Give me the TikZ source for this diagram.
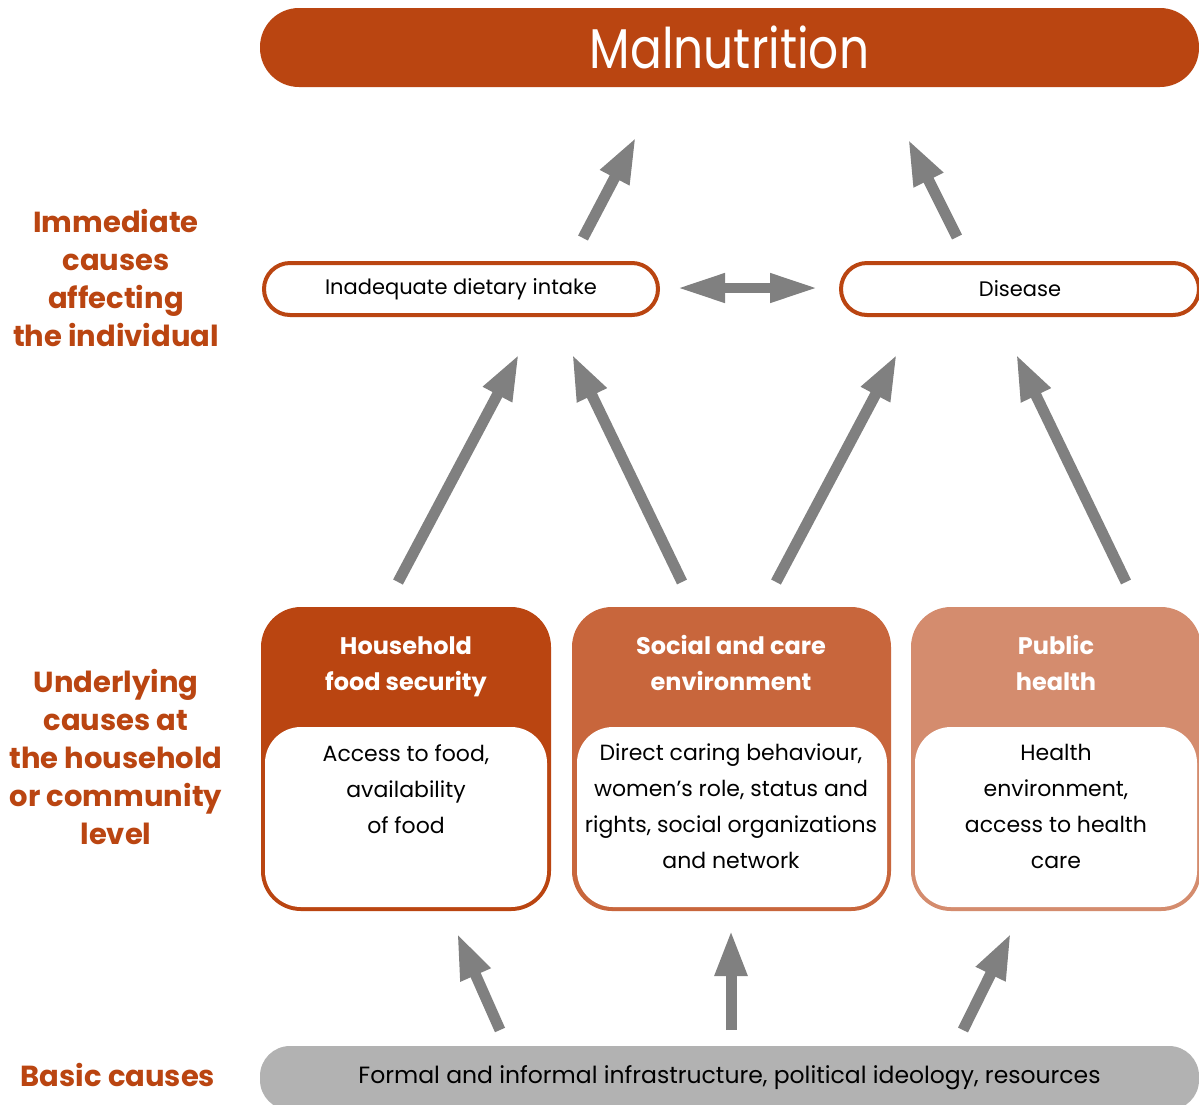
\documentclass[tikz,border=0pt]{standalone}
\usepackage{fontspec}
\setmainfont{Poppins}
\newfontfamily\titlefont[FakeStretch=0.84]{Poppins}
\usetikzlibrary{arrows.meta}
\definecolor{rust}{RGB}{186,69,17}
\definecolor{rustmid}{RGB}{200,102,60}
\definecolor{rustlight}{RGB}{212,140,110}
\definecolor{arrgray}{RGB}{128,128,128}
\definecolor{basegray}{RGB}{178,178,178}
\begin{document}
\begin{tikzpicture}[x=1pt,y=-1pt,
  uparrow/.style={draw=arrgray, line width=11pt, -{Triangle[length=46pt,width=30pt]}},
  dblarrow/.style={draw=arrgray, line width=10pt, {Triangle[length=48pt,width=27pt]}-{Triangle[length=48pt,width=27pt]}},
  sidelabel/.style={text=rust, font=\bfseries\fontsize{29}{38}\selectfont, align=center, inner sep=0pt},
  immbox/.style={draw=rust, line width=4pt, fill=white, rounded corners=26pt, inner sep=0pt, minimum height=52pt, font=\fontsize{21}{30}\selectfont},
  headtext/.style={text=white, font=\bfseries\fontsize{24}{36}\selectfont, align=center, inner sep=0pt},
  bodytext/.style={text=black, font=\fontsize{22}{36}\selectfont, align=center, inner sep=0pt, anchor=north},
]
\clip (0,0) rectangle (1199,1104);
\fill[white] (0,0) rectangle (1199,1104);

% Title bar
\node[fill=rust, rounded corners=39pt, minimum width=939pt, minimum height=79pt, inner sep=0pt,
      text=white, font=\titlefont\fontsize{56}{60}\selectfont] (mal) at (729.5,47.5) {Malnutrition};

% Immediate causes
\node[immbox, minimum width=394pt] (diet) at (461,289) {Inadequate dietary intake};
\node[immbox, minimum width=358pt] (dis) at (1020,289) {Disease};

% Underlying boxes
\fill[rust, rounded corners=40pt] (261,607) rectangle (551,911);
\fill[white, rounded corners=36pt] (265,727) rectangle (547,907);
\fill[rustmid, rounded corners=40pt] (572,607) rectangle (891,911);
\fill[white, rounded corners=36pt] (577,727) rectangle (887,907);
\fill[rustlight, rounded corners=40pt] (911,607) rectangle (1201,911);
\fill[white, rounded corners=36pt] (915,727) rectangle (1197,907);

\node[headtext] (hfs) at (406,667) {Household\\food security};
\node[headtext] (sce) at (731,663) {Social and care\\environment};
\node[headtext] (ph) at (1056,663) {Public\\health};

\node[bodytext] (hfsb) at (406,744) {Access to food,\\availability\\of food};
\node[bodytext] (sceb) at (731,744) {Direct caring behaviour,\\women’s role, status and\\rights, social organizations\\and network};
\node[bodytext] (phb) at (1056,744) {Health\\environment,\\access to health\\care};

% Basic bar
\node[fill=basegray, rounded corners=30pt, minimum width=939pt, minimum height=64pt, inner sep=0pt,
      font=\fontsize{23.5}{30}\selectfont] (basic) at (729.5,1078) {Formal and informal infrastructure, political ideology, resources};

% Left labels
\node[sidelabel] (limm) at (116,278) {Immediate\\causes\\affecting\\the individual};
\node[sidelabel] (lund) at (116,757) {Underlying\\causes at\\the household\\or community\\level};
\node[sidelabel] (lbas) at (118,1075) {Basic causes};

% Arrow coordinates
\coordinate (a1s) at (583,238); \coordinate (a1e) at (636,137);
\coordinate (a2s) at (957,237); \coordinate (a2e) at (908,139);
\coordinate (ds) at (677,288); \coordinate (de) at (818,288);
\coordinate (u1s) at (398,582); \coordinate (u1e) at (519,354);
\coordinate (u2s) at (682,582); \coordinate (u2e) at (572,354);
\coordinate (u3s) at (776,582); \coordinate (u3e) at (897,354);
\coordinate (u4s) at (1126,582); \coordinate (u4e) at (1016,354);
\coordinate (b1s) at (500,1030); \coordinate (b1e) at (457,933);
\coordinate (b2s) at (731,1030); \coordinate (b2e) at (731,930);
\coordinate (b3s) at (963,1030); \coordinate (b3e) at (1011,933);

\draw[uparrow] (a1s) -- (a1e);
\draw[uparrow] (a2s) -- (a2e);
\draw[dblarrow] (ds) -- (de);
\draw[uparrow] (u1s) -- (u1e);
\draw[uparrow] (u2s) -- (u2e);
\draw[uparrow] (u3s) -- (u3e);
\draw[uparrow] (u4s) -- (u4e);
\draw[uparrow] (b1s) -- (b1e);
\draw[uparrow] (b2s) -- (b2e);
\draw[uparrow] (b3s) -- (b3e);
\end{tikzpicture}
\end{document}
